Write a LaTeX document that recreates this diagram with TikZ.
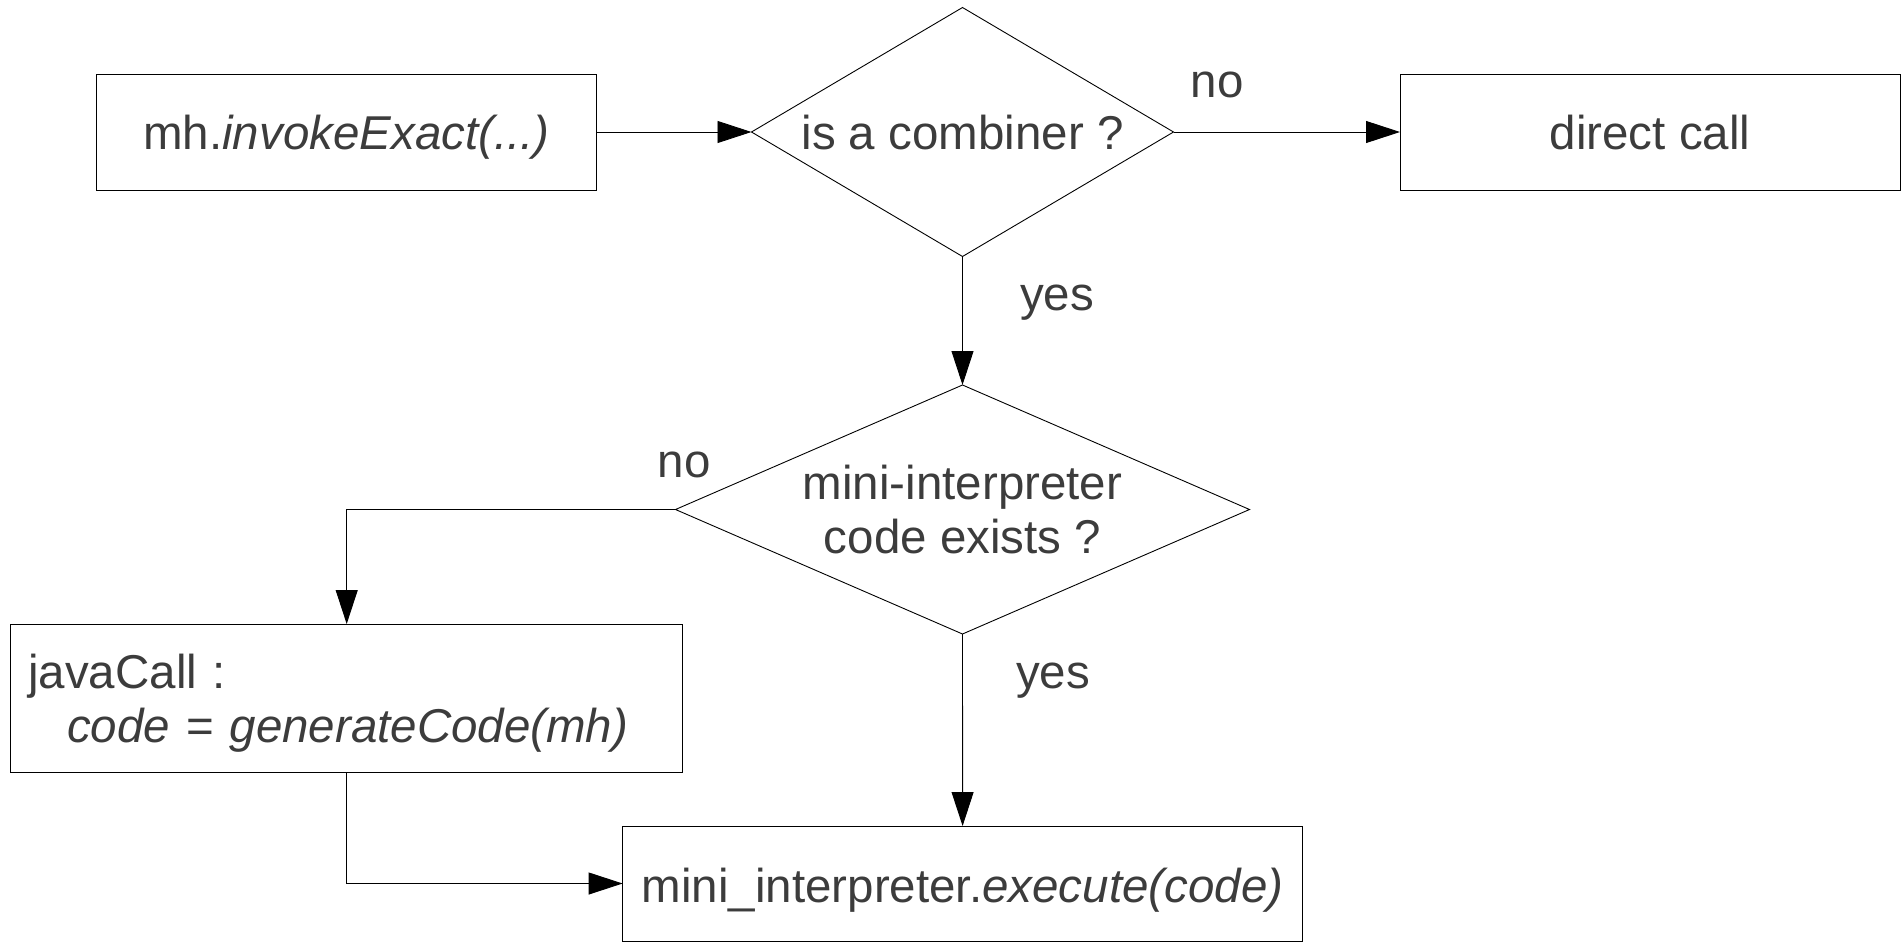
\documentclass[tikz,border=0pt]{standalone}
\usepackage{fontspec}
\setmainfont{Liberation Sans}
\usetikzlibrary{shapes.geometric,arrows.meta}
\definecolor{ink}{HTML}{3C3C3C}
\begin{document}
\begin{tikzpicture}[x=1pt,y=-1pt,
  every node/.style={font=\fontsize{47.5}{54}\selectfont, text=ink,
    inner sep=0pt, outer sep=0pt},
  shapeline/.style={draw=black, line width=0.9pt},
  oneline/.style={text height=44pt, text depth=10pt},
  procbox/.style={shapeline, rectangle},
  decision/.style={shapeline, diamond},
  lbl/.style={anchor=base},
  flow/.style={line width=0.9pt, draw=black,
    -{Triangle[length=34pt,width=22pt]}}]
  \useasboundingbox (0,0) rectangle (1903,942);

  % process boxes and decisions
  \node[procbox, oneline, minimum width=500pt, minimum height=116pt]
    (invoke) at (346.5,132) {mh.\textit{invokeExact(...)}};
  \node[decision, oneline, aspect=1.695, minimum width=422pt, minimum height=249pt]
    (combiner) at (962.5,132) {is a combiner ?};
  \node[procbox, oneline, minimum width=500pt, minimum height=116pt]
    (direct) at (1650,132) {direct call};
  \node[decision, align=center, aspect=2.305, minimum width=574pt, minimum height=249pt]
    (exists) at (962.5,509.5) {mini-interpreter\\code exists ?};
  \node[procbox, align=left, text width=637pt, inner xsep=17.5pt, minimum height=148pt]
    (javacall) at (346.7,698)
    {\rule{0pt}{44pt}javaCall :\\\hspace*{39pt}\textit{code} = \textit{generateCode(mh)}};
  \node[procbox, oneline, text height=47pt, minimum width=680pt, minimum height=115pt]
    (execute) at (962.6,883.5) {mini\_interpreter.\textit{execute(code)}};

  % branch labels
  \node[lbl] (no1) at (1217,97) {no};
  \node[lbl] (yes1) at (1057,310) {yes};
  \node[lbl] (no2) at (684,477) {no};
  \node[lbl] (yes2) at (1053,688) {yes};

  % connectors
  \draw[flow] (invoke.east) -- (combiner.west);
  \draw[flow] (combiner.east) -- (direct.west);
  \draw[flow] (combiner.south) -- (exists.north);
  \draw[flow] (exists.west) -| (javacall.north);
  \draw[flow] (javacall.south) |- (execute.west);
  \draw[flow] (exists.south) -- (execute.north);
\end{tikzpicture}
\end{document}
